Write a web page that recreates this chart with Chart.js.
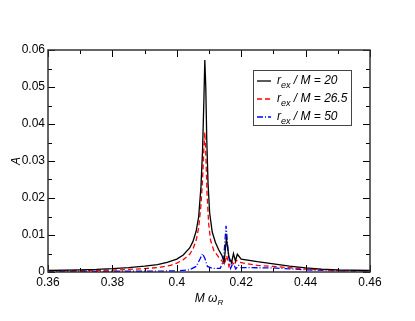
<!DOCTYPE html>
<html>
<head>
<meta charset="utf-8">
<script src="https://cdn.jsdelivr.net/npm/chart.js@4"></script>
<style>
  html, body { margin: 0; padding: 0; background: #fff; }
  #wrap { width: 415px; height: 321px; }
</style>
</head>
<body>
<div id="wrap"><canvas id="chart" width="415" height="321"></canvas></div>
<script>
// --- Data ---
const omega20 = [0.360, 0.365, 0.370, 0.375, 0.380, 0.385, 0.390, 0.394, 0.397, 0.400, 0.402, 0.404, 0.405, 0.406, 0.4068, 0.4075, 0.4080, 0.4084, 0.4087, 0.4090, 0.4093, 0.4097, 0.4102, 0.4110, 0.4120, 0.4130, 0.4140, 0.4147, 0.4154, 0.4162, 0.4170, 0.4176, 0.4182, 0.4188, 0.4200, 0.4250, 0.4300, 0.4350, 0.4400, 0.4450, 0.4500, 0.4600];
const amp20 = [0.0004, 0.0005, 0.0006, 0.0007, 0.0009, 0.0012, 0.0016, 0.0020, 0.0026, 0.0035, 0.0046, 0.0065, 0.0082, 0.0110, 0.015, 0.023, 0.033, 0.046, 0.0573, 0.050, 0.036, 0.024, 0.016, 0.0108, 0.0080, 0.0060, 0.0045, 0.0026, 0.0090, 0.0040, 0.0025, 0.0050, 0.0030, 0.0048, 0.0035, 0.0028, 0.0022, 0.0016, 0.0011, 0.0008, 0.0006, 0.0004];

const omega265 = [0.360, 0.370, 0.380, 0.385, 0.390, 0.395, 0.398, 0.400, 0.402, 0.404, 0.405, 0.406, 0.4068, 0.4075, 0.4080, 0.4084, 0.4087, 0.4090, 0.4094, 0.4099, 0.4105, 0.4115, 0.4130, 0.4140, 0.4148, 0.4155, 0.4162, 0.4170, 0.4178, 0.4185, 0.4200, 0.4250, 0.4300, 0.4400, 0.4500, 0.4600];
const amp265 = [0.0003, 0.0004, 0.0005, 0.0007, 0.0009, 0.0013, 0.0018, 0.0024, 0.0033, 0.0048, 0.0062, 0.0085, 0.012, 0.018, 0.025, 0.033, 0.0378, 0.032, 0.021, 0.013, 0.0085, 0.0058, 0.0040, 0.0030, 0.0020, 0.0045, 0.0015, 0.0030, 0.0018, 0.0032, 0.0025, 0.0018, 0.0015, 0.0008, 0.0004, 0.0003];

const omega50 = [0.360, 0.390, 0.400, 0.404, 0.406, 0.4072, 0.408, 0.4088, 0.4095, 0.411, 0.4135, 0.4145, 0.4153, 0.4160, 0.4167, 0.4175, 0.4183, 0.4192, 0.420, 0.430, 0.440, 0.450, 0.460];
const amp50 = [0.0002, 0.0002, 0.0003, 0.0006, 0.0015, 0.0035, 0.0050, 0.0035, 0.0015, 0.0010, 0.0010, 0.0030, 0.0125, 0.0050, 0.0010, 0.0025, 0.0008, 0.0018, 0.0012, 0.0011, 0.0006, 0.0003, 0.0002];

const seriesLabels = ['20', '26.5', '50'];
const xTicks = [0.36, 0.38, 0.40, 0.42, 0.44, 0.46];
const yTicks = [0, 0.01, 0.02, 0.03, 0.04, 0.05, 0.06];

function toPoints(xs, ys) {
    return xs.map((x, i) => ({ x: x, y: ys[i] }));
}

const FONT = '"Liberation Sans", Arial, Helvetica, sans-serif';

// frame, inward ticks, axis titles and legend, drawn like the original plot
const framePlugin = {
    id: 'frame',
    afterDraw(chart) {
        const ctx = chart.ctx;
        const a = chart.chartArea;
        const xs = chart.scales.x;
        const ys = chart.scales.y;
        ctx.save();

        // ticks
        ctx.strokeStyle = '#000';
        ctx.lineWidth = 1;
        ctx.beginPath();
        for (let v = 0.36; v <= 0.4601; v += 0.01) {
            const px = Math.round(xs.getPixelForValue(v)) + 0.5;
            const major = Math.abs((v / 0.02) - Math.round(v / 0.02)) < 1e-6;
            const len = major ? 7 : 4;
            ctx.moveTo(px, a.bottom); ctx.lineTo(px, a.bottom - len);
            ctx.moveTo(px, a.top); ctx.lineTo(px, a.top + len);
        }
        for (let v = 0; v <= 0.0601; v += 0.005) {
            const py = Math.round(ys.getPixelForValue(v)) + 0.5;
            const major = Math.abs((v / 0.01) - Math.round(v / 0.01)) < 1e-6;
            const len = major ? 7 : 4;
            ctx.moveTo(a.left, py); ctx.lineTo(a.left + len, py);
            ctx.moveTo(a.right, py); ctx.lineTo(a.right - len, py);
        }
        ctx.stroke();

        // frame
        ctx.strokeStyle = '#333';
        ctx.lineWidth = 1.5;
        ctx.strokeRect(a.left, a.top, a.right - a.left, a.bottom - a.top);

        // axis titles
        ctx.fillStyle = '#000';
        ctx.font = 'italic 12px ' + FONT;
        ctx.textAlign = 'center';
        ctx.textBaseline = 'middle';
        ctx.save();
        ctx.translate(17, (a.top + a.bottom) / 2);
        ctx.rotate(-Math.PI / 2);
        ctx.fillText('A', 0, 0);
        ctx.restore();

        const cx = (a.left + a.right) / 2;
        ctx.textAlign = 'left';
        ctx.textBaseline = 'alphabetic';
        const t1 = 'M \u03c9';
        const w1 = ctx.measureText(t1).width;
        ctx.font = 'italic 8px ' + FONT;
        const w2 = ctx.measureText('R').width;
        const start = cx - (w1 + w2) / 2;
        ctx.font = 'italic 12px ' + FONT;
        ctx.fillText(t1, start, 302);
        ctx.font = 'italic 8px ' + FONT;
        ctx.fillText('R', start + w1, 305);

        // legend
        const lx = 253, ly = 70, lw = 98, lh = 55;
        ctx.fillStyle = '#fff';
        ctx.fillRect(lx, ly, lw, lh);
        ctx.strokeStyle = '#444';
        ctx.lineWidth = 1;
        ctx.strokeRect(lx + 0.5, ly + 0.5, lw, lh);
        chart.data.datasets.forEach((ds, i) => {
            const yy = ly + 11 + i * 18;
            ctx.strokeStyle = ds.borderColor;
            ctx.lineWidth = ds.borderWidth;
            ctx.setLineDash(ds.borderDash || []);
            ctx.beginPath();
            ctx.moveTo(lx + 4, yy); ctx.lineTo(lx + 18, yy);
            ctx.stroke();
            ctx.setLineDash([]);
            ctx.fillStyle = '#000';
            ctx.textBaseline = 'alphabetic';
            let tx = lx + 24;
            ctx.font = 'italic 12px ' + FONT;
            ctx.fillText('r', tx, yy + 3);
            tx += ctx.measureText('r').width;
            ctx.font = 'italic 9px ' + FONT;
            ctx.fillText('ex', tx, yy + 7);
            tx += ctx.measureText('ex').width;
            ctx.font = 'italic 12px ' + FONT;
            ctx.fillText(' / M = ' + seriesLabels[i], tx, yy + 3);
        });

        ctx.restore();
    }
};

const ctx = document.getElementById('chart').getContext('2d');

new Chart(ctx, {
    type: 'line',
    data: {
        datasets: [{
            label: 'r_ex / M = 20',
            data: toPoints(omega20, amp20),
            borderColor: '#000000',
            borderWidth: 1.3,
            pointRadius: 0,
            fill: false,
            tension: 0
        }, {
            label: 'r_ex / M = 26.5',
            data: toPoints(omega265, amp265),
            borderColor: '#ff0000',
            borderWidth: 1.3,
            borderDash: [5, 3],
            pointRadius: 0,
            fill: false,
            tension: 0
        }, {
            label: 'r_ex / M = 50',
            data: toPoints(omega50, amp50),
            borderColor: '#0000ff',
            borderWidth: 1.3,
            borderDash: [6, 2, 1, 2],
            pointRadius: 0,
            fill: false,
            tension: 0
        }]
    },
    options: {
        responsive: false,
        animation: false,
        layout: {
            padding: { top: 50, right: 45, left: 0, bottom: 0 }
        },
        plugins: {
            legend: { display: false },
            tooltip: { enabled: false }
        },
        scales: {
            x: {
                type: 'linear',
                min: 0.36,
                max: 0.46,
                grid: { display: false, drawTicks: false },
                border: { display: false },
                afterFit: (s) => { s.height = 49; },
                afterBuildTicks: (s) => { s.ticks = xTicks.map(v => ({ value: v })); },
                ticks: {
                    color: '#000',
                    padding: 3,
                    maxRotation: 0,
                    font: { family: FONT, size: 12 },
                    callback: (v) => String(Number(v.toFixed(3)))
                }
            },
            y: {
                min: 0,
                max: 0.06,
                grid: { display: false, drawTicks: false },
                border: { display: false },
                afterFit: (s) => { s.width = 48; },
                afterBuildTicks: (s) => { s.ticks = yTicks.map(v => ({ value: v })); },
                ticks: {
                    color: '#000',
                    padding: 3,
                    font: { family: FONT, size: 12 },
                    callback: (v) => String(Number(v.toFixed(3)))
                }
            }
        }
    },
    plugins: [framePlugin]
});
</script>
</body>
</html>
